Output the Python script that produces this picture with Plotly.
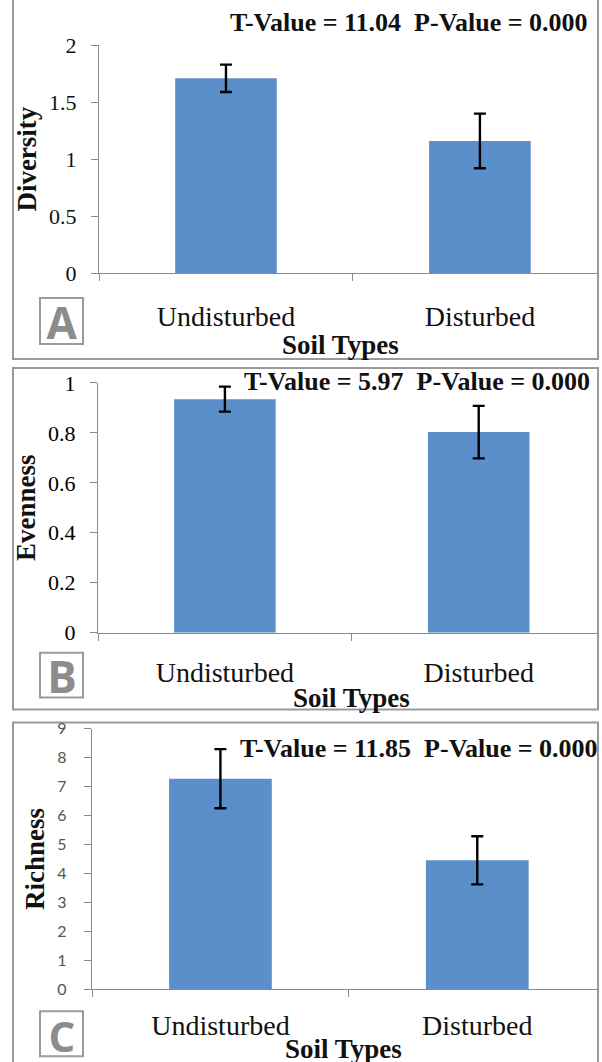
import plotly.graph_objects as go

W, H = 602, 1062
FIG_H = 1086  # taller canvas so the bottom rows of the photographed page are filled

soil_types = ["Undisturbed", "Disturbed"]

diversity = [1.71, 1.16]
diversity_err = [0.12, 0.24]

evenness = [0.935, 0.803]
evenness_err = [0.05, 0.105]

richness = [7.27, 4.45]
richness_err = [1.02, 0.83]

panel_titles = ["Diversity", "Evenness", "Richness"]
panel_letters = ["A", "B", "C"]
x_title = "Soil Types"
stat_texts = [
    "T-Value = 11.04  P-Value = 0.000",
    "T-Value = 5.97  P-Value = 0.000",
    "T-Value = 11.85  P-Value = 0.000",
]
y_ranges = [[0, 2], [0, 1], [0, 9]]
y_dticks = [0.5, 0.2, 1]

BAR = "#5B8FC9"
GRAY = "#9a9a9a"
AX = "#8a8a8a"
SERIF = "Liberation Serif, Times New Roman, serif"
SANS = "Lato, Liberation Sans, sans-serif"

# empirical vertical correction of the photographed page
S, O = 0.978, 11.7


def vy(p):
    return (p - O) / S


def py(p):
    return 1 - vy(p) / FIG_H


def px(p):
    return p / W


fig = go.Figure()

values = [diversity, evenness, richness]
errors = [diversity_err, evenness_err, richness_err]

y_pix = [(273, 45), (633, 383), (990, 729)]
x_left = [99, 98, 92]
x_right = 598
x_rng_hi = [1.465, 1.47, 1.47]
label_standoff = [18, 15, 11]

for i in range(3):
    sfx = "" if i == 0 else str(i + 1)
    fig.add_trace(go.Bar(
        x=soil_types, y=values[i],
        xaxis="x" + sfx, yaxis="y" + sfx,
        marker=dict(color=BAR, line=dict(width=0)),
        width=0.4,
        error_y=dict(type="data", array=errors[i], color="black", thickness=2.4, width=6),
        showlegend=False,
    ))
    y0, y1 = y_pix[i]
    if i == 0:
        tickfont_y = dict(family=SERIF, size=22, color="#111")
    elif i == 1:
        tickfont_y = dict(family=SERIF, size=22, color="#000")
    else:
        tickfont_y = dict(family=SANS, size=16, color="#555")
    fig.layout["xaxis" + sfx] = dict(
        domain=[px(x_left[i]), px(x_right)], anchor="y" + sfx,
        range=[-0.5, x_rng_hi[i]], type="category",
        showline=True, linecolor=AX, linewidth=1.3,
        ticks="outside", tickson="boundaries", ticklen=7, tickcolor=AX,
        tickfont=dict(family=SERIF, size=28, color="#111"),
        ticklabelstandoff=label_standoff[i],
        showgrid=False, zeroline=False, fixedrange=True,
    )
    fig.layout["yaxis" + sfx] = dict(
        domain=[py(y0), py(y1)], anchor="x" + sfx,
        range=y_ranges[i], dtick=y_dticks[i], tick0=0,
        showline=True, linecolor=AX, linewidth=1.3,
        ticks="outside", ticklen=7, tickcolor=AX,
        tickfont=tickfont_y, ticklabelstandoff=10 if i < 2 else 14,
        title=dict(text="<b>" + panel_titles[i] + "</b>", font=dict(family=SERIF, size=27, color="#111"), standoff=4),
        showgrid=False, zeroline=False, fixedrange=True,
    )

# x-axis titles (placed under the tick labels)
x_title_pos = [(340, 345), (351, 698), (343, 1050)]
for (x, y) in x_title_pos:
    fig.add_annotation(x=px(x), y=py(y), xref="paper", yref="paper",
                       text="<b>" + x_title + "</b>", showarrow=False,
                       font=dict(family=SERIF, size=27, color="#111"),
                       xanchor="center", yanchor="middle")

# panel borders
borders = [(-20, 359), (368, 710), (723, 1100)]
for (t, b) in borders:
    fig.add_shape(type="rect", xref="paper", yref="paper",
                  x0=px(13), x1=px(598), y0=py(b), y1=py(t),
                  line=dict(color=GRAY, width=2), fillcolor="rgba(0,0,0,0)", layer="below")

# letter boxes
letter_boxes = [(298, 344), (653, 698), (1012, 1057)]
letter_sizes = [44, 44, 42]
for (t, b), letter, fs in zip(letter_boxes, panel_letters, letter_sizes):
    fig.add_shape(type="rect", xref="paper", yref="paper",
                  x0=px(40), x1=px(83), y0=py(b), y1=py(t),
                  line=dict(color=GRAY, width=2), fillcolor="white")
    fig.add_annotation(x=px(61.5), y=py((t + b) / 2 + 1), xref="paper", yref="paper",
                       text="<b>" + letter + "</b>", showarrow=False,
                       height=38, width=38, valign="middle",
                       font=dict(family="Open Sans, Liberation Sans, sans-serif", size=fs, color="#8c8c8c"),
                       xanchor="center", yanchor="middle")

# stat annotations
stat_pos = [(590, 22), (592, 382), (600, 749)]
for (x, y), txt in zip(stat_pos, stat_texts):
    fig.add_annotation(x=px(x), y=py(y), xref="paper", yref="paper",
                       text="<b>" + txt + "</b>", showarrow=False,
                       font=dict(family=SERIF, size=26, color="#111"),
                       xanchor="right", yanchor="middle")

fig.update_layout(
    width=W, height=FIG_H,
    margin=dict(l=0, r=0, t=0, b=0),
    paper_bgcolor="white", plot_bgcolor="white",
    bargap=0.6,
)

fig.write_html("out.html", config={"displayModeBar": False},
               post_script="document.body.style.margin='0';document.body.style.overflow='hidden';")
